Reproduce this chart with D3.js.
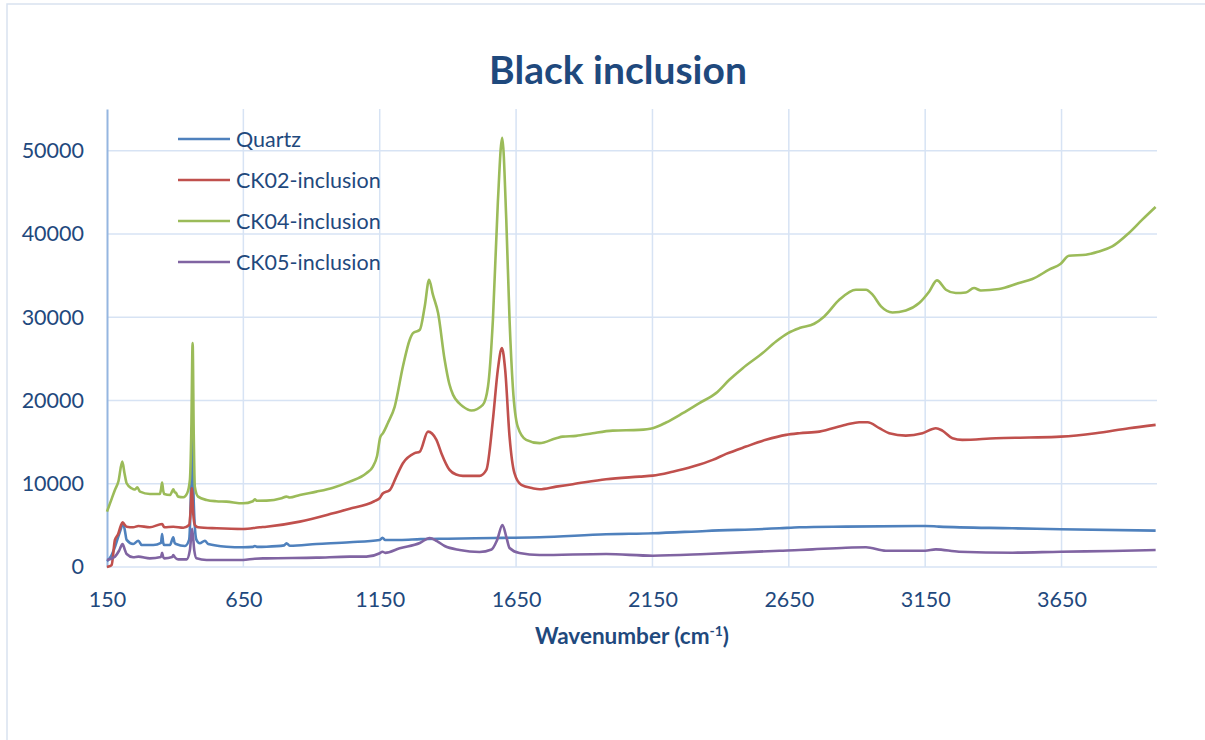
<!DOCTYPE html>
<html>
<head>
<meta charset="utf-8">
<script src="https://cdn.jsdelivr.net/npm/d3@7"></script>
<style>
  html, body { margin: 0; padding: 0; background: #fff; }
  svg { display: block; }
  text { font-family: Lato, "Open Sans", sans-serif; fill: #1f497d; }
</style>
</head>
<body>
<svg id="chart" width="1205" height="740"></svg>
<script>
// Raman spectra of the black inclusion, [wavenumber, intensity]
const quartz = [[150,700],[165,1300],[180,2500],[195,4000],[210,5150],[216,4300],[222,3250],[246,2760],[265,3160],[277,2640],[320,2640],[348,2900],[352,3970],[356,2900],[360,2640],[381,2640],[393,3570],[398,2900],[403,2760],[436,2520],[451,3250],[457,8000],[462,16870],[467,9000],[470,6050],[478,3250],[490,2850],[509,3160],[521,2760],[588,2440],[649,2370],[685,2420],[692,2520],[700,2420],[735,2440],[800,2600],[808,2850],[820,2560],[918,2760],[1040,2970],[1150,3250],[1160,3520],[1170,3250],[1223,3250],[1300,3350],[1400,3400],[1500,3450],[1600,3500],[1736,3570],[1980,3930],[2151,4050],[2347,4330],[2616,4650],[2689,4770],[2859,4850],[3150,4930],[3200,4850],[3470,4650],[3647,4530],[3995,4370]];

const ck02 = [[150,0],[160,100],[167,240],[179,3250],[191,3970],[200,4900],[207,5370],[214,5100],[222,4840],[246,4770],[265,4930],[307,4770],[352,5170],[360,4770],[393,4840],[430,4720],[451,5050],[456,6500],[461,9460],[466,6500],[472,5050],[484,4770],[552,4650],[649,4570],[710,4770],[735,4840],[857,5450],[979,6450],[1040,7000],[1101,7500],[1130,7900],[1150,8260],[1160,8800],[1187,9250],[1210,10800],[1235,12460],[1278,13670],[1297,13860],[1327,16260],[1358,15270],[1376,13670],[1406,11660],[1430,11100],[1455,10940],[1516,10940],[1541,11660],[1565,17670],[1583,23680],[1598,26290],[1610,23680],[1626,15660],[1644,11260],[1669,9860],[1711,9460],[1736,9340],[1797,9650],[1858,9940],[1980,10540],[2102,10850],[2151,10970],[2224,11450],[2298,12060],[2371,12860],[2420,13580],[2493,14460],[2566,15270],[2640,15870],[2689,16070],[2762,16260],[2859,17070],[2908,17390],[2939,17390],[2982,16670],[3018,16070],[3079,15780],[3140,16070],[3189,16670],[3213,16380],[3250,15470],[3286,15270],[3409,15470],[3531,15550],[3647,15660],[3775,16070],[3897,16670],[3995,17070]];

const ck04 = [[150,6650],[165,8000],[179,9250],[192,10300],[206,12650],[214,11300],[222,10060],[240,9460],[252,9300],[261,9580],[271,9050],[307,8770],[344,8770],[348,9300],[352,10130],[356,9200],[360,8770],[381,8650],[389,9100],[393,9340],[398,9000],[403,8900],[411,8450],[430,8380],[444,8860],[454,10460],[459,16000],[464,26890],[468,16000],[472,9650],[484,8450],[515,8050],[550,7900],[588,7850],[649,7650],[685,7900],[692,8140],[700,7950],[735,7970],[790,8260],[808,8450],[820,8350],[857,8650],[918,9050],[979,9530],[1040,10250],[1101,11260],[1125,12060],[1140,13300],[1152,15600],[1162,16070],[1180,17300],[1205,19270],[1235,24080],[1260,27300],[1272,28090],[1297,28490],[1315,31290],[1331,34500],[1345,32700],[1364,30490],[1388,24880],[1405,22000],[1419,20670],[1440,19700],[1455,19270],[1486,18790],[1528,19470],[1547,21670],[1565,29690],[1583,43720],[1599,51530],[1614,41710],[1626,29690],[1638,21670],[1656,16860],[1687,15270],[1736,14870],[1797,15470],[1821,15660],[1870,15750],[1931,16070],[2004,16380],[2102,16470],[2151,16670],[2200,17350],[2261,18470],[2322,19680],[2383,20880],[2432,22480],[2481,23880],[2554,25690],[2603,27080],[2647,28090],[2689,28690],[2743,29210],[2780,30090],[2835,32090],[2896,33300],[2933,33300],[2957,32700],[2988,31290],[3030,30570],[3079,30810],[3128,31700],[3165,33090],[3193,34420],[3226,33300],[3262,32900],[3299,32970],[3329,33500],[3354,33210],[3421,33380],[3494,34100],[3543,34580],[3604,35700],[3647,36420],[3677,37380],[3739,37500],[3787,37900],[3836,38500],[3897,40110],[3946,41710],[3995,43240]];

const ck05 = [[150,840],[179,1240],[195,2000],[207,2760],[215,2100],[222,1560],[246,1170],[265,1240],[307,1040],[348,1200],[352,1720],[356,1200],[360,1040],[389,1200],[393,1440],[398,1200],[411,920],[442,920],[454,2040],[462,4600],[470,2000],[478,1040],[515,840],[649,840],[692,1000],[735,1040],[918,1120],[1040,1240],[1101,1240],[1150,1650],[1160,1840],[1170,1700],[1223,2250],[1297,2880],[1333,3490],[1360,3100],[1388,2520],[1443,2040],[1516,1800],[1560,2100],[1580,3200],[1600,5050],[1615,3500],[1626,2280],[1662,1680],[1736,1440],[1980,1560],[2151,1360],[2347,1560],[2616,1960],[2689,2040],[2737,2120],[2859,2320],[2933,2370],[3006,1960],[3150,1960],[3189,2120],[3274,1840],[3470,1720],[3647,1840],[3836,1920],[3995,2040]];

const seriesNames = ["Quartz", "CK02-inclusion", "CK04-inclusion", "CK05-inclusion"];
const seriesData = [quartz, ck02, ck04, ck05];
const seriesColors = ["#4f81bd", "#c0504d", "#9bbb59", "#8064a2"];

const xTicks = [150, 650, 1150, 1650, 2150, 2650, 3150, 3650];
const yTicks = [0, 10000, 20000, 30000, 40000, 50000];
const xDomain = [150, 4000];
const yDomain = [0, 55000];

const chartTitle = "Black inclusion";

// ---- layout ----
const svg = d3.select("#chart");
const plot = { left: 107, right: 1157, top: 109, bottom: 567 };

const x = d3.scaleLinear().domain(xDomain).range([plot.left, plot.right]);
const y = d3.scaleLinear().domain(yDomain).range([plot.bottom, plot.top]);

// outer chart frame
svg.append("rect")
  .attr("x", 7).attr("y", 4)
  .attr("width", 1210).attr("height", 760)
  .attr("fill", "#fff")
  .attr("stroke", "#d9e2f0")
  .attr("stroke-width", 1.5);

// title
svg.append("text")
  .attr("x", 618).attr("y", 84)
  .attr("text-anchor", "middle")
  .style("font-size", "39px")
  .style("font-weight", "bold")
  .text(chartTitle);

const gridColor = "#d7e3f4";

// horizontal gridlines
svg.append("g")
  .selectAll("line")
  .data(yTicks)
  .join("line")
  .attr("x1", plot.left).attr("x2", plot.right)
  .attr("y1", d => y(d)).attr("y2", d => y(d))
  .attr("stroke", gridColor)
  .attr("stroke-width", 1.5);

// vertical gridlines
svg.append("g")
  .selectAll("line")
  .data(xTicks.slice(1))
  .join("line")
  .attr("x1", d => x(d)).attr("x2", d => x(d))
  .attr("y1", plot.top).attr("y2", plot.bottom)
  .attr("stroke", gridColor)
  .attr("stroke-width", 1.5);

// y axis (line + labels)
const yAxis = d3.axisLeft(y).tickValues(yTicks).tickSize(0).tickPadding(23).tickFormat(d3.format("d"));
const gy = svg.append("g").attr("transform", `translate(${plot.left},0)`).call(yAxis);
gy.select(".domain").attr("stroke", "#95b6e0").attr("stroke-width", 2);
gy.selectAll("text").style("font-size", "21.5px").style("fill", "#1f497d").style("font-family", "Lato, sans-serif");

// x axis labels
const xAxis = d3.axisBottom(x).tickValues(xTicks).tickSize(0).tickPadding(25).tickFormat(d3.format("d"));
const gx = svg.append("g").attr("transform", `translate(0,${plot.bottom})`).call(xAxis);
gx.select(".domain").remove();
gx.selectAll("text").style("font-size", "21.5px").style("fill", "#1f497d").style("font-family", "Lato, sans-serif");

// x axis title
const xt = svg.append("text")
  .attr("x", (plot.left + plot.right) / 2).attr("y", 644)
  .attr("text-anchor", "middle")
  .style("font-size", "22.5px")
  .style("font-weight", "bold");
xt.append("tspan").text("Wavenumber (cm");
xt.append("tspan").attr("dy", -8).style("font-size", "14px").text("-1");
xt.append("tspan").attr("dy", 8).text(")");

// spectra
const line = d3.line()
  .x(d => x(d[0]))
  .y(d => y(d[1]))
  .curve(d3.curveMonotoneX);

svg.append("g")
  .selectAll("path")
  .data(seriesData)
  .join("path")
  .attr("d", line)
  .attr("fill", "none")
  .attr("stroke", (d, i) => seriesColors[i])
  .attr("stroke-width", 2.6)
  .attr("stroke-linejoin", "round");

// legend
const legend = svg.append("g")
  .selectAll("g")
  .data(seriesNames)
  .join("g")
  .attr("transform", (d, i) => `translate(178,${139 + i * 41})`);
legend.append("line")
  .attr("x1", 0).attr("x2", 52)
  .attr("stroke", (d, i) => seriesColors[i])
  .attr("stroke-width", 2.6);
legend.append("text")
  .attr("x", 58).attr("dy", "0.35em")
  .style("font-size", "21.5px")
  .text(d => d);
</script>
</body>
</html>
